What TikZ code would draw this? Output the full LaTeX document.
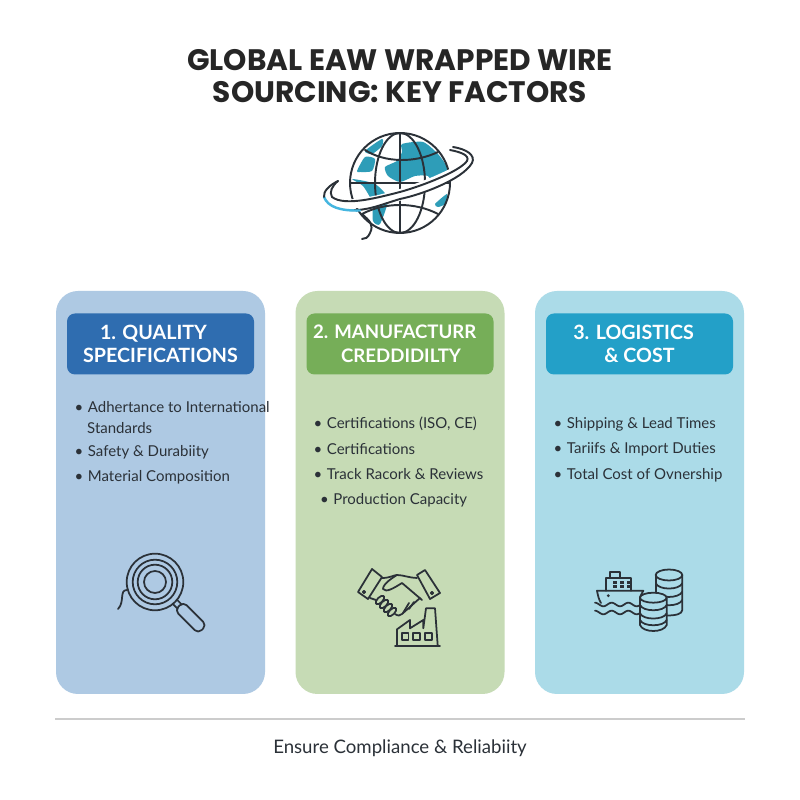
\documentclass[tikz,border=0pt]{standalone}
\usepackage{fontspec}
\setmainfont{Lato}
\newfontfamily\titlefont{Poppins}
\usetikzlibrary{positioning, calc}
\definecolor{panelBlue}{HTML}{AEC9E3}
\definecolor{panelGreen}{HTML}{C6DBB5}
\definecolor{panelCyan}{HTML}{ABDBE8}
\definecolor{headBlue}{HTML}{2F6DB0}
\definecolor{headGreen}{HTML}{76AE58}
\definecolor{headCyan}{HTML}{23A0C8}
\definecolor{inkDark}{HTML}{2B3138}
\definecolor{globeTeal}{HTML}{2E9DB8}
\definecolor{orbitBlue}{HTML}{45B6E0}
\tikzstyle{panelNode}=[rounded corners=0.22cm,minimum width=2.09cm,minimum height=4.03cm,inner sep=0pt]
\tikzstyle{headNode}=[rounded corners=0.08cm,minimum width=1.87cm,minimum height=0.61cm,inner sep=0pt,align=center,text=white,font=\fontsize{5.6}{6.55}\selectfont\bfseries]
\tikzstyle{itemNode}=[anchor=west,inner sep=0pt,text=inkDark,font=\fontsize{4.27}{6}\selectfont]
\tikzstyle{iconLine}=[draw=inkDark,line width=0.5pt,line cap=round,line join=round]
\tikzstyle{globeLine}=[draw=inkDark,line width=0.55pt,line cap=round]
\newcommand{\bul}{•\hspace{0.3em}}
\begin{document}
\begin{tikzpicture}
        \useasboundingbox (0, 0) rectangle (8, 8);
        \fill[white] (0, 0) rectangle (8, 8);

        \node[text=black!85, align=center, font=\titlefont\fontsize{8.43}{9.1}\selectfont\bfseries] (title) at (4, 7.24) {GLOBAL EAW WRAPPED WIRE\\SOURCING: KEY FACTORS};

        % globe
        \begin{scope}[shift={(4.0, 6.17)}]
                \begin{scope}
                        \clip (0, 0) circle (0.5);
                        \fill[globeTeal] plot[smooth cycle, tension=0.4] coordinates {(0.02, 0.39) (0.23, 0.41) (0.38, 0.29) (0.47, 0.16) (0.48, 0.04) (0.33, -0.01) (0.28, 0.07) (0.15, 0.07) (0, 0.01) (-0.12, 0.07) (-0.15, 0.16) (-0.03, 0.22) (0.02, 0.31)};
                        \fill[globeTeal] plot[smooth cycle, tension=0.4] coordinates {(-0.35, 0.32) (-0.18, 0.44) (-0.18, 0.37) (-0.28, 0.29)};
                        \fill[globeTeal] plot[smooth cycle, tension=0.4] coordinates {(-0.43, 0.12) (-0.35, 0.26) (-0.25, 0.24) (-0.28, 0.12) (-0.4, 0.11)};
                        \fill[globeTeal] plot[smooth cycle, tension=0.4] coordinates {(-0.48, 0.04) (-0.25, -0.01) (-0.12, -0.16) (-0.2, -0.41) (-0.27, -0.38) (-0.28, -0.19) (-0.37, -0.03)};
                        \fill[globeTeal] plot[smooth cycle, tension=0.4] coordinates {(0.35, -0.21) (0.47, -0.11) (0.45, -0.21) (0.38, -0.24)};
                \end{scope}
                \draw[globeLine] (0, 0) circle (0.5);
                \draw[globeLine] (0, 0) ellipse (0.25 and 0.5);
                \draw[globeLine] (0, 0.5) -- (0, -0.5);
                \draw[globeLine] (-0.5, 0) -- (0.5, 0);
                \draw[globeLine] (-0.35, 0.33) .. controls (-0.15, 0.2) and (0.15, 0.2) .. (0.38, 0.31);
                \draw[globeLine] (-0.38, -0.31) .. controls (-0.15, -0.19) and (0.15, -0.19) .. (0.38, -0.31);
                % orbit ring
                \fill[white] (-0.7, -0.13) .. controls (-0.55, -0.25) and (0.2, -0.05) .. (0.68, 0.24) -- (0.73, 0.22) .. controls (0.6, 0) and (-0.1, -0.3) .. (-0.67, -0.25) -- cycle;
                \draw[globeLine] (0.53, 0.36) .. controls (0.66, 0.34) and (0.76, 0.28) .. (0.72, 0.2) .. controls (0.62, 0.03) and (0.2, -0.12) .. (0, -0.16) .. controls (-0.2, -0.22) and (-0.33, -0.28) .. (-0.5, -0.27);
                \draw[globeLine] (0.5, 0.33) .. controls (0.6, 0.31) and (0.7, 0.28) .. (0.67, 0.22) .. controls (0.6, 0.12) and (0.25, -0.02) .. (0, -0.09) .. controls (-0.2, -0.14) and (-0.55, -0.24) .. (-0.68, -0.14) .. controls (-0.71, -0.09) and (-0.68, -0.03) .. (-0.62, 0.02);
                \draw[orbitBlue, line width=0.7pt, line cap=round] (-0.4, -0.275) .. controls (-0.6, -0.28) and (-0.72, -0.24) .. (-0.76, -0.14);
                \draw[globeLine] (-0.76, -0.14) .. controls (-0.77, -0.08) and (-0.7, -0.02) .. (-0.62, 0.02);
                \draw[globeLine] (-0.38, -0.31) .. controls (-0.3, -0.38) and (-0.26, -0.42) .. (-0.3, -0.5) .. controls (-0.32, -0.55) and (-0.35, -0.56) .. (-0.38, -0.56);
        \end{scope}

        % panels
        \node[panelNode, fill=panelBlue] (p1) at (1.605, 3.075) {};
        \node[panelNode, fill=panelGreen] (p2) at (4.0, 3.075) {};
        \node[panelNode, fill=panelCyan] (p3) at (6.395, 3.075) {};

        \node[headNode, fill=headBlue] (h1) at (1.605, 4.56) {1. QUALITY\hspace*{4pt}\\SPECIFICATIONS};
        \node[headNode, fill=headGreen, font=\fontsize{5.3}{6.9}\selectfont\bfseries] (h2) at (4.0, 4.56) {2. MANUFACTURR\hspace*{3pt}\\\hspace*{0.6pt}CREDDIDILTY};
        \node[headNode, fill=headCyan] (h3) at (6.395, 4.56) {3. LOGISTICS\hspace*{3.4pt}\\\& COST};

        \node[itemNode] (a1) at (0.74, 3.93) {\bul Adhertance to International};
        \node[itemNode] (a2) at (0.865, 3.72) {Standards};
        \node[itemNode] (a3) at (0.74, 3.475) {\bul Safety \& Durabiity};
        \node[itemNode] (a4) at (0.74, 3.225) {\bul Material Composition};

        \node[itemNode] (b1) at (3.13, 3.76) {\bul Certifications (ISO, CE)};
        \node[itemNode] (b2) at (3.13, 3.505) {\bul Certifications};
        \node[itemNode] (b3) at (3.13, 3.255) {\bul Track Racork \& Reviews};
        \node[itemNode] (b4) at (3.195, 2.995) {\bul Production Capacity};

        \node[itemNode] (c1) at (5.53, 3.76) {\bul Shipping \& Lead Times};
        \node[itemNode] (c2) at (5.53, 3.505) {\bul Tariifs \& Import Duties};
        \node[itemNode] (c3) at (5.53, 3.25) {\bul Total Cost of Ovnership};

        % magnifier
        \begin{scope}[shift={(1.55, 2.18)}]
                \foreach \r in {0.283, 0.223, 0.173, 0.11} {
                        \draw[iconLine] (0, 0) circle (\r);
                }
                \draw[iconLine] (-0.28, -0.08) .. controls (-0.36, -0.08) and (-0.3, -0.2) .. (-0.37, -0.27);
                \begin{scope}[rotate=-45]
                        \draw[iconLine] (0.283, -0.03) -- (0.34, -0.03) (0.283, 0.03) -- (0.34, 0.03);
                        \draw[iconLine, rounded corners=0.05cm] (0.34, -0.06) rectangle (0.67, 0.06);
                \end{scope}
        \end{scope}

        % handshake and factory
        \begin{scope}[shift={(4, 2.0)}]
                \draw[iconLine] (-0.28, 0.31) -- (-0.18, 0.23) -- (-0.32, 0.01) -- (-0.42, 0.08) -- cycle;
                \draw[iconLine] (0.25, 0.3) -- (0.4, 0.07) -- (0.3, 0.01) -- (0.17, 0.25) -- cycle;
                \draw[iconLine] (-0.36, 0.08) circle (0.012);
                \draw[iconLine] (0.32, 0.07) circle (0.012);
                \draw[iconLine] (-0.18, 0.22) .. controls (-0.1, 0.22) and (-0.06, 0.25) .. (-0.03, 0.25) .. controls (0.03, 0.25) and (0.1, 0.22) .. (0.17, 0.22);
                \draw[iconLine] (-0.03, 0.25) .. controls (-0.08, 0.22) and (-0.17, 0.16) .. (-0.17, 0.11) .. controls (-0.14, 0.07) and (-0.06, 0.12) .. (0.02, 0.17) -- (0.22, 0);
                \draw[iconLine] (-0.3, 0.02) -- (-0.24, 0);
                \foreach \x/\y in {-0.2/0.0, -0.16/-0.04, -0.12/-0.08, -0.08/-0.12} {
                        \draw[iconLine, rotate around={-45:(\x, \y)}, fill=panelGreen] (\x, \y) ellipse (0.027 and 0.055);
                }
                \draw[iconLine] (-0.05, -0.14) .. controls (-0.02, -0.16) and (0, -0.16) .. (0.02, -0.14) -- (0.2, 0.02);
                \draw[iconLine] (0.03, -0.13) -- (0.09, -0.03);
                \draw[iconLine] (0.09, -0.09) -- (0.14, -0.02);
                % factory
                \draw[iconLine] (-0.03, -0.457) -- (-0.03, -0.293) -- (0.1, -0.2) -- (0.1, -0.283) -- (0.233, -0.2) -- (0.233, -0.283) -- (0.26, -0.083) -- (0.35, -0.083) -- (0.377, -0.457);
                \draw[iconLine] (-0.05, -0.457) -- (0.4, -0.457);
                \foreach \x in {0.017, 0.133, 0.25} {
                        \draw[iconLine] (\x, -0.4) rectangle ++(0.067, 0.067);
                }
        \end{scope}

        % ship and coins
        \begin{scope}[shift={(6.4, 2.0)}]
                \draw[iconLine] (-0.43, 0.093) .. controls (-0.42, 0.04) and (-0.41, 0) .. (-0.39, -0.03);
                \draw[iconLine] (-0.43, 0.093) -- (0.033, 0.093) -- (0, 0.03);
                \draw[iconLine] (-0.34, 0.093) -- (-0.34, 0.217) -- (-0.093, 0.217) -- (-0.093, 0.093);
                \draw[iconLine] (-0.3, 0.217) -- (-0.3, 0.277) -- (-0.2, 0.277) -- (-0.2, 0.217);
                \foreach \x in {-0.267, -0.2, -0.133} {
                        \fill[inkDark] (\x, 0.16) rectangle ++(0.035, 0.032);
                        \fill[inkDark] (\x, 0.115) rectangle ++(0.035, 0.032);
                }
                \fill[inkDark] (-0.317, 0.043) circle (0.016);
                \draw[iconLine] plot[domain=-0.45:0, samples=40, smooth] (\x, {-0.045+0.018*cos(2160*(\x+0.45))});
                \draw[iconLine] plot[domain=-0.45:0, samples=40, smooth] (\x, {-0.125+0.018*cos(2160*(\x+0.45))});
                % tall stack
                \draw[iconLine] (0.29, 0.25) ellipse (0.133 and 0.055);
                \draw[iconLine] (0.157, 0.25) -- (0.157, 0.02);
                \draw[iconLine] (0.423, 0.25) -- (0.423, -0.1) .. controls (0.42, -0.14) and (0.36, -0.155) .. (0.27, -0.155);
                \foreach \y in {0.167, 0.083, 0} {
                        \draw[iconLine] (0.157, \y) .. controls (0.19, \y-0.07) and (0.39, \y-0.07) .. (0.423, \y);
                }
                % short stack
                \fill[panelCyan] (0.133, 0.023) ellipse (0.133 and 0.05) (0, 0.023) rectangle (0.267, -0.27) (0.133, -0.27) ellipse (0.133 and 0.05);
                \draw[iconLine] (0.133, 0.023) ellipse (0.133 and 0.05);
                \draw[iconLine] (0, 0.023) -- (0, -0.25) .. controls (0.03, -0.33) and (0.237, -0.33) .. (0.267, -0.25) -- (0.267, 0.023);
                \foreach \y in {-0.05, -0.133, -0.2} {
                        \draw[iconLine] (0, \y) .. controls (0.03, \y-0.07) and (0.237, \y-0.07) .. (0.267, \y);
                }
        \end{scope}

        % bottom rule
        \coordinate (r1) at (0.55, 0.81);
        \coordinate (r2) at (7.45, 0.81);
        \draw[black!20, line width=0.4pt] (r1) -- (r2);

        \node[text=inkDark, font=\fontsize{5.3}{6}\selectfont] (foot) at (4, 0.52) {Ensure Compliance \& Reliabiity};
\end{tikzpicture}
\end{document}
